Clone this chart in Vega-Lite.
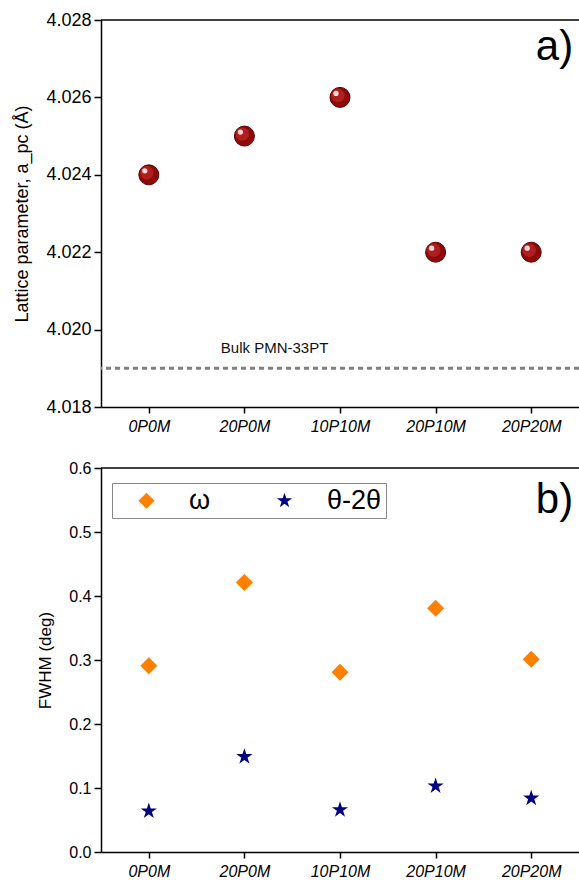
{
  "$schema": "https://vega.github.io/schema/vega-lite/v6.json",
  "background": "white",
  "padding": {"top": 11, "left": 13, "right": 0, "bottom": 0},
  "config": {
    "font": "Liberation Sans",
    "view": {"stroke": null},
    "axis": {
      "grid": false,
      "labelColor": "black",
      "titleColor": "black",
      "domainColor": "black",
      "tickColor": "black",
      "domainWidth": 1.5,
      "tickWidth": 1.5,
      "titleFontWeight": "normal"
    },
    "legend": {
      "title": null,
      "orient": "none",
      "legendX": 11,
      "legendY": 15,
      "direction": "horizontal",
      "strokeColor": "#888888",
      "fillColor": "white",
      "padding": 4,
      "labelFontSize": 27,
      "labelColor": "black",
      "labelOffset": 29,
      "columnPadding": 43,
      "symbolOffset": 17,
      "symbolSize": 260,
      "symbolStrokeWidth": 0,
      "labelExpr": "datum.label == 'θ-2θ' ? datum.label + '\u00a0\u00a0\u00a0\u00a0' : datum.label"
    }
  },
  "datasets": {
    "lattice": [
      {"sample": "0P0M", "a": 4.024},
      {"sample": "20P0M", "a": 4.025},
      {"sample": "10P10M", "a": 4.026},
      {"sample": "20P10M", "a": 4.022},
      {"sample": "20P20M", "a": 4.022}
    ],
    "bulk": [{"label": "Bulk PMN-33PT", "a": 4.019}],
    "fwhm": [
      {"sample": "0P0M", "series": "ω", "fwhm": 0.291},
      {"sample": "20P0M", "series": "ω", "fwhm": 0.421},
      {"sample": "10P10M", "series": "ω", "fwhm": 0.281},
      {"sample": "20P10M", "series": "ω", "fwhm": 0.381},
      {"sample": "20P20M", "series": "ω", "fwhm": 0.301},
      {"sample": "0P0M", "series": "θ-2θ", "fwhm": 0.064},
      {"sample": "20P0M", "series": "θ-2θ", "fwhm": 0.149},
      {"sample": "10P10M", "series": "θ-2θ", "fwhm": 0.066},
      {"sample": "20P10M", "series": "θ-2θ", "fwhm": 0.103},
      {"sample": "20P20M", "series": "θ-2θ", "fwhm": 0.084}
    ]
  },
  "spacing": 26,
  "resolve": {
    "scale": {"color": "independent", "shape": "independent"},
    "legend": {"color": "independent", "shape": "independent"}
  },
  "vconcat": [
    {
      "width": 478,
      "height": 387,
      "layer": [
        {
          "data": {"values": [{"top": 4.028}]},
          "mark": {"type": "rule", "color": "black", "strokeWidth": 1.5},
          "encoding": {"y": {"field": "top", "type": "quantitative"}}
        },
        {
          "data": {"name": "bulk"},
          "mark": {"type": "rule", "color": "#808080", "strokeWidth": 3, "strokeDash": [5, 4]},
          "encoding": {"y": {"field": "a", "type": "quantitative"}}
        },
        {
          "data": {"name": "lattice"},
          "mark": {"type": "circle", "size": 400, "color": "#8c0a0a", "opacity": 1, "stroke": "#5c0000", "strokeWidth": 1},
          "encoding": {
            "x": {
              "field": "sample",
              "type": "nominal",
              "sort": null,
              "scale": {"type": "point", "padding": 0.5, "domain": ["0P0M", "20P0M", "10P10M", "20P10M", "20P20M"]},
              "axis": {"title": null, "labelFontSize": 16, "labelFontStyle": "italic", "labelAngle": 0, "labelAlign": "center", "tickSize": 6, "labelPadding": 5}
            },
            "y": {
              "field": "a",
              "type": "quantitative",
              "scale": {"domain": [4.018, 4.028], "zero": false, "nice": false},
              "axis": {
                "title": "Lattice parameter, a_pc (Å)",
                "titleFontSize": 18,
                "titlePadding": 14,
                "labelFontSize": 18,
                "labelPadding": 3,
                "values": [4.018, 4.019, 4.02, 4.021, 4.022, 4.023, 4.024, 4.025, 4.026, 4.027, 4.028],
                "labelExpr": "round(datum.value*1000) % 2 == 0 ? format(datum.value, '.3f') : ''",
                "tickSize": {"condition": {"test": "round(datum.value*1000) % 2 == 0", "value": 7}, "value": 4}
              }
            }
          }
        },
        {
          "data": {"name": "lattice"},
          "mark": {"type": "circle", "size": 180, "color": "#b01e1e", "opacity": 1, "xOffset": -2, "yOffset": -2},
          "encoding": {
            "x": {"field": "sample", "type": "nominal", "sort": null},
            "y": {"field": "a", "type": "quantitative"}
          }
        },
        {
          "data": {"name": "lattice"},
          "mark": {"type": "circle", "size": 28, "color": "#f6d6d6", "opacity": 1, "xOffset": -4, "yOffset": -4},
          "encoding": {
            "x": {"field": "sample", "type": "nominal", "sort": null},
            "y": {"field": "a", "type": "quantitative"}
          }
        },
        {
          "data": {"name": "bulk"},
          "mark": {"type": "text", "fontSize": 15, "align": "left", "baseline": "middle", "dx": 72, "dy": -20, "color": "#111"},
          "encoding": {
            "x": {"datum": "0P0M", "type": "nominal"},
            "y": {"field": "a", "type": "quantitative"},
            "text": {"field": "label"}
          }
        },
        {
          "data": {"values": [{"panel": "a)", "a": 4.0273}]},
          "mark": {"type": "text", "fontSize": 42, "align": "right", "baseline": "middle", "dx": 42, "color": "black"},
          "encoding": {
            "x": {"datum": "20P20M", "type": "nominal"},
            "y": {"field": "a", "type": "quantitative"},
            "text": {"field": "panel"}
          }
        }
      ]
    },
    {
      "width": 478,
      "height": 384,
      "layer": [
        {
          "data": {"values": [{"top": 0.6}]},
          "mark": {"type": "rule", "color": "black", "strokeWidth": 1.5},
          "encoding": {"y": {"field": "top", "type": "quantitative"}}
        },
        {
          "data": {"name": "fwhm"},
          "mark": {"type": "point", "filled": true, "opacity": 1, "size": 290},
          "encoding": {
            "x": {
              "field": "sample",
              "type": "nominal",
              "sort": null,
              "scale": {"type": "point", "padding": 0.5, "domain": ["0P0M", "20P0M", "10P10M", "20P10M", "20P20M"]},
              "axis": {"title": null, "labelFontSize": 16, "labelFontStyle": "italic", "labelAngle": 0, "labelAlign": "center", "tickSize": 6, "labelPadding": 5}
            },
            "y": {
              "field": "fwhm",
              "type": "quantitative",
              "scale": {"domain": [0, 0.6], "nice": false},
              "axis": {
                "title": "FWHM (deg)",
                "titleFontSize": 17,
                "titlePadding": 14,
                "labelFontSize": 16,
                "labelPadding": 3,
                "values": [0, 0.05, 0.1, 0.15, 0.2, 0.25, 0.3, 0.35, 0.4, 0.45, 0.5, 0.55, 0.6],
                "labelExpr": "round(datum.value*100) % 10 == 0 ? format(datum.value, '.1f') : ''",
                "tickSize": {"condition": {"test": "round(datum.value*100) % 10 == 0", "value": 7}, "value": 4}
              }
            },
            "shape": {
              "field": "series",
              "type": "nominal",
              "scale": {
                "domain": ["ω", "θ-2θ"],
                "range": ["diamond", "M0,-1L0.2245,-0.309L0.951,-0.309L0.363,0.118L0.588,0.809L0,0.382L-0.588,0.809L-0.363,0.118L-0.951,-0.309L-0.2245,-0.309Z"]
              }
            },
            "color": {
              "field": "series",
              "type": "nominal",
              "scale": {"domain": ["ω", "θ-2θ"], "range": ["#ff8000", "#000080"]}
            }
          }
        },
        {
          "data": {"values": [{"panel": "b)", "fwhm": 0.55}]},
          "mark": {"type": "text", "fontSize": 42, "align": "right", "baseline": "middle", "dx": 42, "color": "black"},
          "encoding": {
            "x": {"datum": "20P20M", "type": "nominal"},
            "y": {"field": "fwhm", "type": "quantitative"},
            "text": {"field": "panel"}
          }
        }
      ]
    }
  ]
}
